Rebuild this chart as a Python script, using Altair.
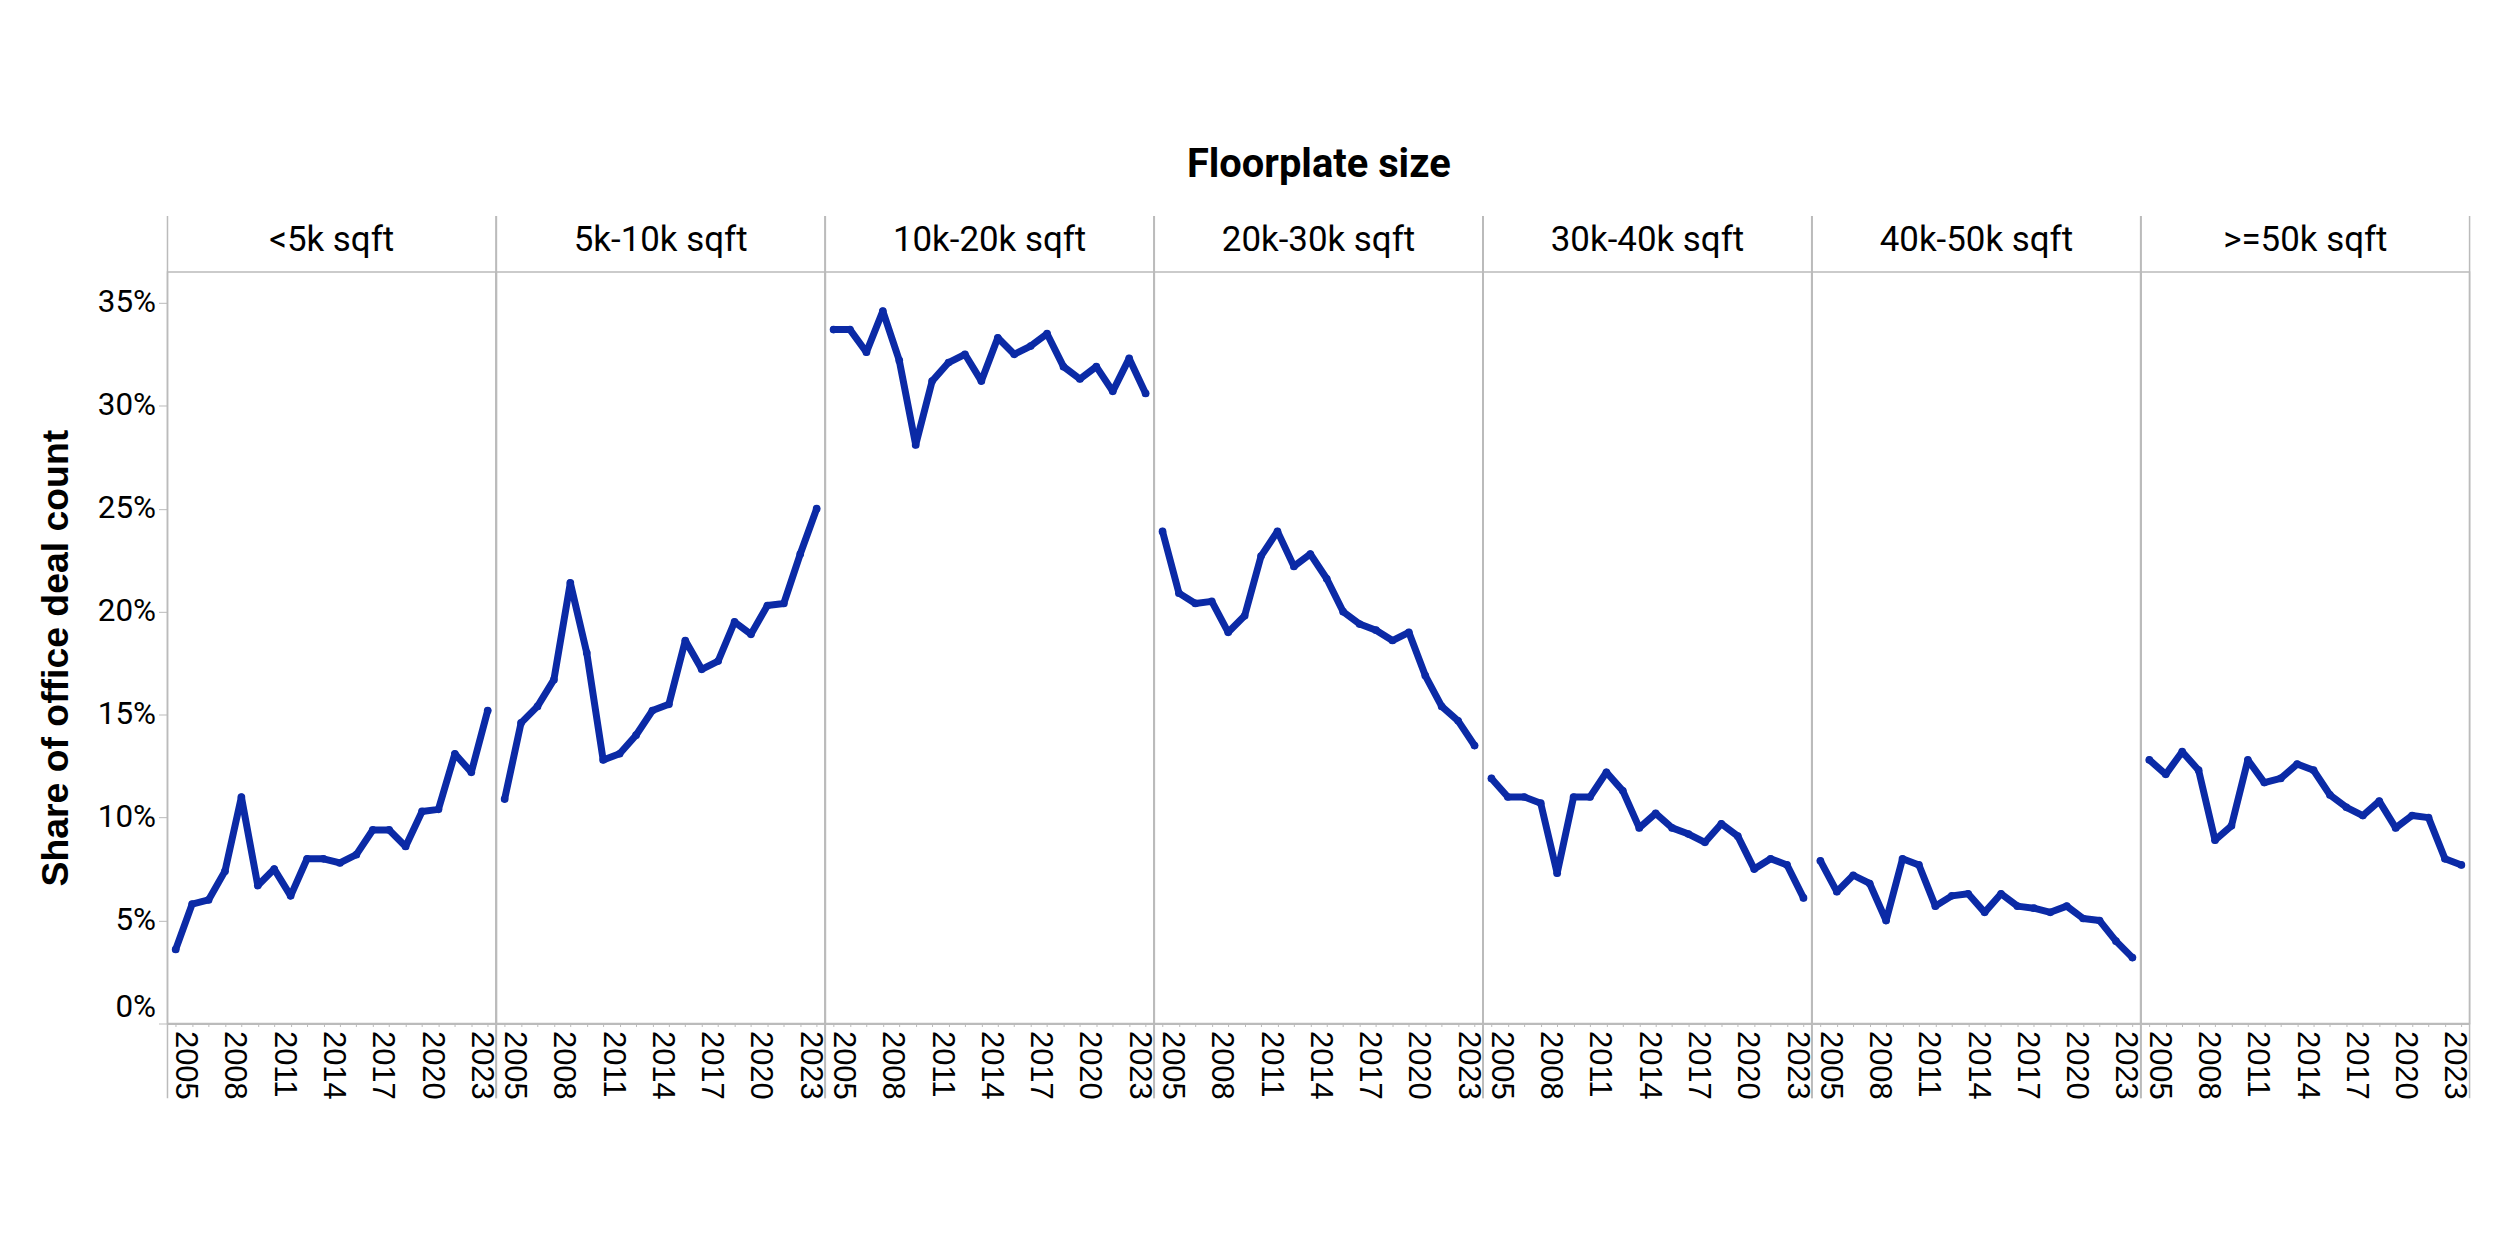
import altair as alt
import pandas as pd

years = list(range(2005, 2025))
sizes = ["<5k sqft", "5k-10k sqft", "10k-20k sqft", "20k-30k sqft",
         "30k-40k sqft", "40k-50k sqft", ">=50k sqft"]

# share of office deal count, in percent
s_lt5k = [3.6, 5.8, 6.0, 7.4, 11.0, 6.7, 7.5, 6.2, 8.0, 8.0,
          7.8, 8.2, 9.4, 9.4, 8.6, 10.3, 10.4, 13.1, 12.2, 15.2]
s_5_10 = [10.9, 14.6, 15.4, 16.7, 21.4, 18.0, 12.8, 13.1, 14.0, 15.2,
          15.5, 18.6, 17.2, 17.6, 19.5, 18.9, 20.3, 20.4, 22.8, 25.0]
s_10_20 = [33.7, 33.7, 32.6, 34.6, 32.2, 28.1, 31.2, 32.1, 32.5, 31.2,
           33.3, 32.5, 32.9, 33.5, 31.9, 31.3, 31.9, 30.7, 32.3, 30.6]
s_20_30 = [23.9, 20.9, 20.4, 20.5, 19.0, 19.8, 22.7, 23.9, 22.2, 22.8,
           21.6, 20.0, 19.4, 19.1, 18.6, 19.0, 16.9, 15.4, 14.7, 13.5]
s_30_40 = [11.9, 11.0, 11.0, 10.7, 7.3, 11.0, 11.0, 12.2, 11.3, 9.5,
           10.2, 9.5, 9.2, 8.8, 9.7, 9.1, 7.5, 8.0, 7.7, 6.1]
s_40_50 = [7.9, 6.4, 7.2, 6.8, 5.0, 8.0, 7.7, 5.7, 6.2, 6.3,
           5.4, 6.3, 5.7, 5.6, 5.4, 5.7, 5.1, 5.0, 4.0, 3.2]
s_ge50 = [12.8, 12.1, 13.2, 12.3, 8.9, 9.6, 12.8, 11.7, 11.9, 12.6,
          12.3, 11.1, 10.5, 10.1, 10.8, 9.5, 10.1, 10.0, 8.0, 7.7]

series = [s_lt5k, s_5_10, s_10_20, s_20_30, s_30_40, s_40_50, s_ge50]
y_ticks = [0, 0.05, 0.10, 0.15, 0.20, 0.25, 0.30, 0.35]

rows = []
for name, vals in zip(sizes, series):
    for yr, v in zip(years, vals):
        rows.append({"size": name, "year": yr, "share": v / 100.0})
df = pd.DataFrame(rows)

LINE = "#0b2aa6"
GRAY = "#bbbbbb"
W = 329.5
H = 754

x_enc = alt.X(
    "year:O",
    axis=alt.Axis(
        title=None,
        labelAngle=90,
        labelAlign="left",
        labelBaseline="middle",
        labelOffset=9,
        labelFont="Liberation Sans",
        labelFontSize=31,
        labelColor="black",
        labelPadding=4,
        labelExpr="(datum.value - 2005) % 3 == 0 ? datum.label : ''",
        tickColor=GRAY,
        tickSize=3,
        domainColor=GRAY,
        domainWidth=2,
        grid=False,
    ),
)
y_enc = alt.Y(
    "share:Q",
    scale=alt.Scale(domain=[0, 0.365], nice=False, zero=True),
    axis=alt.Axis(
        title="Share of office deal count",
        format=".0%",
        values=y_ticks,
        grid=False,
        labelFont="Roboto",
        labelFontSize=31.5,
        labelColor="black",
        labelPadding=3,
        labelFlush=True,
        tickColor=GRAY,
        tickSize=9,
        domain=False,
        titleFont="Liberation Sans",
        titleFontSize=37.5,
        titleFontWeight="bold",
        titleColor="black",
        titlePadding=22,
        titleY=H / 2 + 10,
    ),
)

line = alt.Chart().mark_line(
    color=LINE, strokeWidth=7, strokeCap="round", strokeJoin="round",
    point=alt.OverlayMarkDef(filled=True, size=60, color=LINE),
).encode(x=x_enc, y=y_enc)

sep_left = alt.Chart().transform_filter("datum.year == 2005").mark_rule(
    color=GRAY, strokeWidth=1.5
).encode(x=alt.value(0), y=alt.value(-56), y2=alt.value(H + 75))

sep_right = alt.Chart().transform_filter("datum.year == 2005").mark_rule(
    color=GRAY, strokeWidth=1.5
).encode(x=alt.value(W), y=alt.value(-56), y2=alt.value(H + 75))

chart = alt.layer(line, sep_left, sep_right, data=df).properties(
    width=W, height=H
).facet(
    column=alt.Column(
        "size:N",
        sort=sizes,
        header=alt.Header(
            title="Floorplate size",
            titleFont="Roboto",
            titleFontSize=40,
            titleFontWeight="bold",
            titleColor="black",
            titlePadding=28,
            labelFont="Roboto",
            labelFontSize=35,
            labelColor="black",
            labelPadding=14,
        ),
    ),
    spacing=0,
    bounds="flush",
).properties(
    padding={"left": 29, "top": 136, "right": 5, "bottom": 10}
).configure_view(
    stroke=GRAY, strokeWidth=1.5
)

chart.save("out.html", embed_options={"renderer": "svg", "actions": False})
